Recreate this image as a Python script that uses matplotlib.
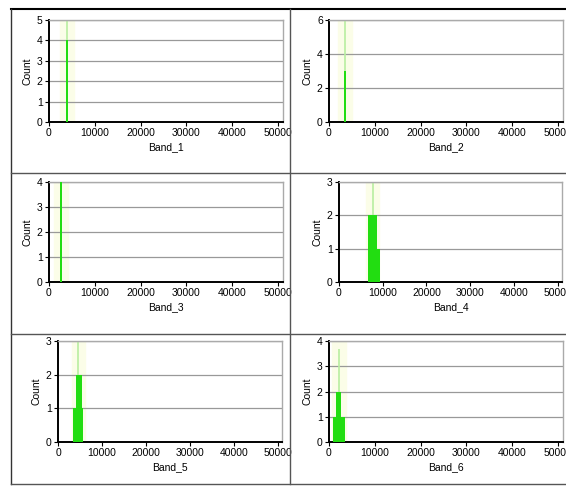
import matplotlib
matplotlib.use('Agg')
import matplotlib.pyplot as plt
from matplotlib.lines import Line2D

plt.rcParams['font.family'] = ['Liberation Sans', 'DejaVu Sans']

# Histogram data: bin left edges, widths, counts
band_names = ['Band_1', 'Band_2', 'Band_3', 'Band_4', 'Band_5', 'Band_6']
y_max = [5, 6, 4, 3, 3, 4]
y_step = [1, 2, 1, 1, 1, 1]

band1_left = [3700]
band1_width = [450]
band1_count = [4]

band2_left = [3300]
band2_width = [450]
band2_count = [3]

band3_left = [2300, 2500]
band3_width = [600, 250]
band3_count = [2, 4]

band4_left = [6600, 8600]
band4_width = [2000, 800]
band4_count = [2, 1]

band5_left = [3400, 4000, 5400]
band5_width = [600, 1400, 300]
band5_count = [1, 2, 1]

band6_left = [900, 1500, 2700]
band6_width = [600, 1200, 800]
band6_count = [1, 2, 1]

# faint peak marker lines (x position, height)
peak_x = [3950, 3500, 2600, 7700, 4600, 2200]
peak_h = [5, 6, 4, 3, 3, 3.7]

lefts = [band1_left, band2_left, band3_left, band4_left, band5_left, band6_left]
widths = [band1_width, band2_width, band3_width, band4_width, band5_width, band6_width]
counts = [band1_count, band2_count, band3_count, band4_count, band5_count, band6_count]

W, H = 566, 494
fig = plt.figure(figsize=(W / 100, H / 100), dpi=100)
fig.patch.set_facecolor('white')

# axes boxes in pixels: left, top, right, bottom
boxes = [(49, 20, 282.6, 122), (329, 20, 562.6, 122),
         (49, 182, 282.6, 282), (339, 182, 562, 282),
         (58, 341, 282.4, 442), (329, 341, 562.6, 442)]

for i, (x0, y0, x1, y1) in enumerate(boxes):
    ax = fig.add_axes([x0 / W, 1 - y1 / H, (x1 - x0) / W, (y1 - y0) / H])
    ax.set_xlim(0, 51000)
    ax.set_ylim(0, y_max[i])
    ax.axvspan(peak_x[i] - 1500, peak_x[i] + 1500, color='#fbfde8', zorder=0)
    ax.vlines(peak_x[i], 0, peak_h[i], color='#b8eea0', lw=1.2, zorder=1)
    ax.bar(lefts[i], counts[i], width=widths[i], align='edge',
           color='#22dd11', edgecolor='none', zorder=3)
    ax.set_xticks([0, 10000, 20000, 30000, 40000, 50000])
    ax.set_xticklabels(['0', '10000', '20000', '30000', '40000', '50000'])
    yt = list(range(0, y_max[i] + 1, y_step[i]))
    ax.set_yticks(yt)
    ax.grid(axis='y', color='#999999', lw=0.9, zorder=0)
    ax.set_axisbelow(True)
    for s in ['top', 'right']:
        ax.spines[s].set_color('#aaaaaa')
        ax.spines[s].set_linewidth(1.0)
    for s in ['left', 'bottom']:
        ax.spines[s].set_color('black')
        ax.spines[s].set_linewidth(1.4)
    ax.tick_params(labelsize=7.5, length=3, width=0.8, pad=1.5)
    ax.set_xlabel(band_names[i], fontsize=7.5, labelpad=3)
    ax.set_ylabel('Count', fontsize=7.5, labelpad=3)

# panel frame lines
fig.add_artist(Line2D([11 / W, 1], [1 - 9 / H, 1 - 9 / H], color='black', lw=1.5))
fig.add_artist(Line2D([11 / W, 11 / W], [1 - 9 / H, 1 - 484 / H], color='#333333', lw=1.0))
fig.add_artist(Line2D([290 / W, 290 / W], [1 - 9 / H, 1 - 484 / H], color='#555555', lw=1.0))
for yy in [173, 334, 484]:
    fig.add_artist(Line2D([11 / W, 1], [1 - yy / H, 1 - yy / H], color='#555555', lw=1.0))

fig.savefig('out.png', dpi=100)
